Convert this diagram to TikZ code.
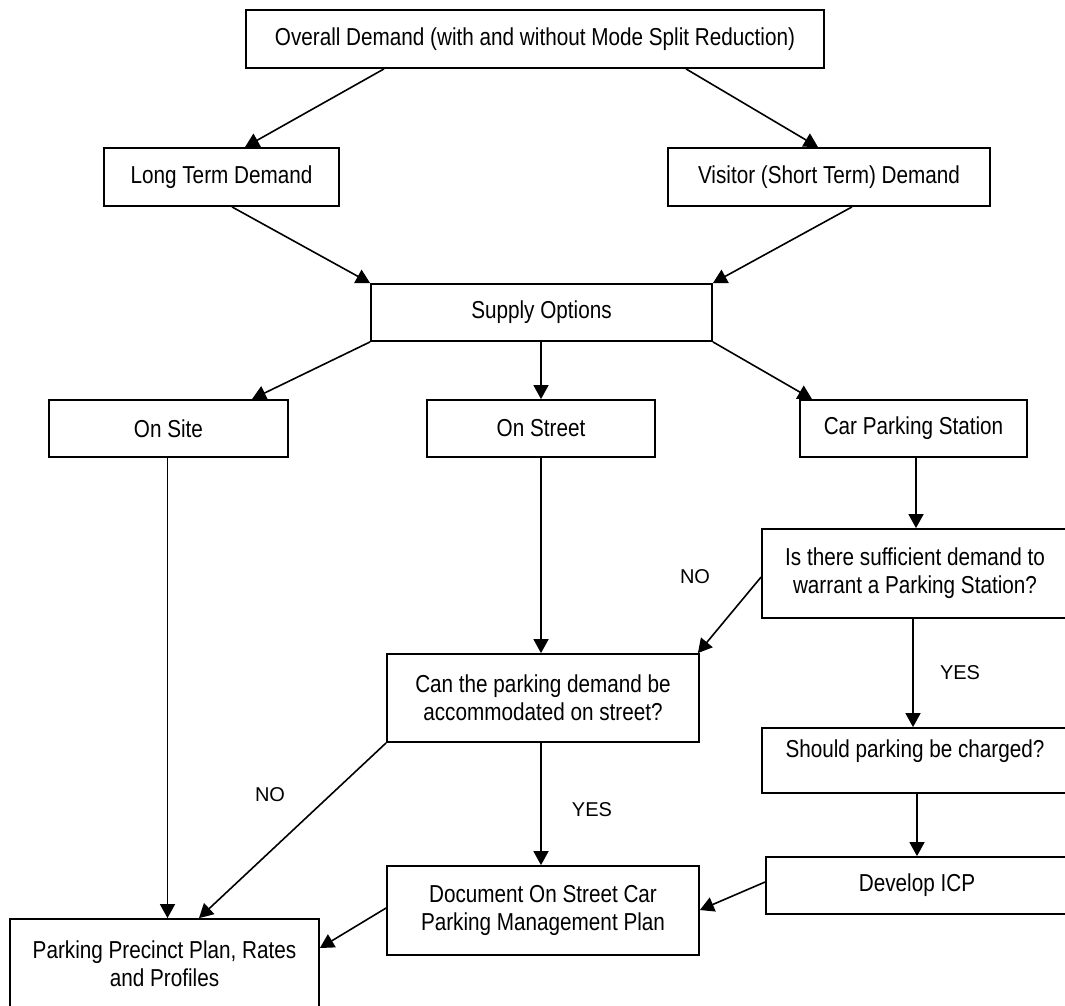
\documentclass[tikz,border=0pt]{standalone}
\usepackage{fontspec}
\setmainfont{Liberation Sans}[FakeStretch=0.845]
\newfontfamily\lblfont{Liberation Sans}
\usetikzlibrary{arrows.meta,calc}
\tikzset{
  box/.style={draw=black,line width=1.8pt,rectangle,align=center,inner sep=0pt,
    font=\fontsize{24.5}{28}\selectfont},
  arr/.style={draw=black,line width=1.6pt,-{Triangle[length=14pt,width=15pt]}},
  lbl/.style={font=\lblfont\fontsize{20}{24}\selectfont,inner sep=0pt}
}
\begin{document}
\begin{tikzpicture}[x=1pt,y=-1pt]
\useasboundingbox (0,0) rectangle (1065,1005);
\fill[white] (0,0) rectangle (1065,1005);
\clip (0,0) rectangle (1065,1005);

\node[box,minimum width=578pt,minimum height=58pt] (top) at (535,39) {Overall Demand (with and without Mode Split Reduction)};
\node[box,minimum width=235pt,minimum height=58pt] (lt) at (221.5,177) {Long Term Demand};
\node[box,minimum width=322pt,minimum height=58pt] (vis) at (829,177) {Visitor (Short Term) Demand};
\node[box,minimum width=341pt,minimum height=57pt] (sup) at (541.5,312.5) {Supply Options};
\node[box,minimum width=239pt,minimum height=57pt] (site) at (168.5,428.5) {On Site};
\node[box,minimum width=228pt,minimum height=57pt] (street) at (541,428.5) {On Street};
\node[box,minimum width=227pt,minimum height=57pt] (cps) at (913.5,428.5) {Car Parking Station};
\node[box,minimum width=306pt,minimum height=89pt] (suff) at (915,573.5) {Is there sufficient demand to\\warrant a Parking Station?};
\node[box,minimum width=312pt,minimum height=88pt] (can) at (543,698) {Can the parking demand be\\accommodated on street?};
\node[box,minimum width=306pt,minimum height=65pt,text depth=23pt] (should) at (915,760.5) {Should parking be charged?};
\node[box,minimum width=302pt,minimum height=57pt] (dev) at (917,885.5) {Develop ICP};
\node[box,minimum width=312pt,minimum height=89pt] (doc) at (543,910.5) {Document On Street Car\\Parking Management Plan};
\node[box,minimum width=309pt,minimum height=90pt] (prec) at (164.5,964) {Parking Precinct Plan, Rates\\and Profiles};

\draw[arr] ($(top.south)+(-151,0)$) -- ($(lt.north)+(23.5,0)$);
\draw[arr] ($(top.south)+(151,0)$) -- ($(vis.north)+(-11,0)$);
\draw[arr] ($(lt.south)+(10.5,0)$) -- (sup.north west);
\draw[arr] ($(vis.south)+(23,0)$) -- (sup.north east);
\draw[arr] (sup.south west) -- ($(site.north)+(83.5,0)$);
\draw[arr] (sup.south -| street.north) -- (street.north);
\draw[arr] (sup.south east) -- ($(cps.north)+(-101.5,0)$);
\draw[arr] ($(site.south)+(-1,0)$) -- ($(prec.north)+(3,0)$);
\draw[arr] (street.south) -- (street.south |- can.north);
\draw[arr] ($(cps.south)+(2.5,0)$) -- ($(suff.north)+(1,0)$);
\draw[arr] ($(suff.west)+(0,3.5)$) -- ($(can.north east)+(-2,0)$);
\draw[arr] ($(suff.south)+(-2,0)$) -- ($(should.north)+(-2,0)$);
\draw[arr] ($(should.south)+(2,0)$) -- (dev.north);
\draw[arr] ($(dev.west)+(0,-3.5)$) -- ($(doc.east)+(0,-0.5)$);
\draw[arr] (can.south west) -- ($(prec.north)+(34.5,0)$);
\draw[arr] ($(can.south)+(-2,0)$) -- ($(doc.north)+(-2,0)$);
\draw[arr] ($(doc.west)+(0,-2.5)$) -- ($(prec.east)+(0,-16)$);

\node[lbl] (no1) at (695,577) {NO};
\node[lbl] (yes1) at (960,673) {YES};
\node[lbl] (yes2) at (592,810) {YES};
\node[lbl] (no2) at (270,795) {NO};
\end{tikzpicture}
\end{document}
